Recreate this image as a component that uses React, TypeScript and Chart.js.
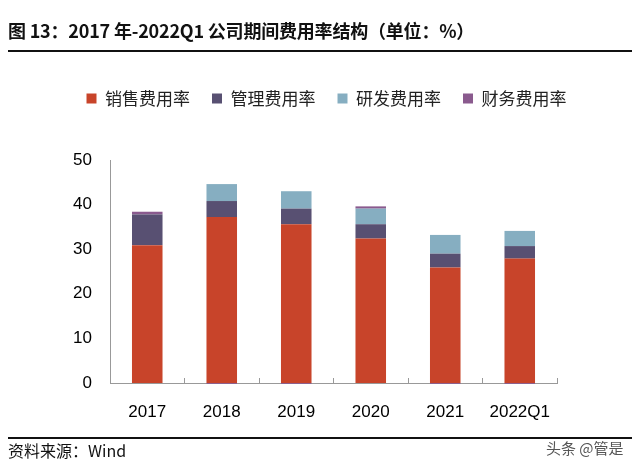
import React, { useEffect, useRef } from "react";
import { Chart, registerables } from "chart.js";

Chart.register(...registerables);

const categories = ["2017", "2018", "2019", "2020", "2021", "2022Q1"];
const salesRate = [30.9, 37.2, 35.6, 32.4, 25.9, 27.9];
const adminRate = [6.9, 3.6, 3.5, 3.2, 3.1, 2.8];
const rdRate = [0, 3.8, 3.9, 3.5, 4.2, 3.4];
const financeRate = [0.6, -0.2, -0.2, 0.5, -0.2, -0.2];
const seriesNames = ["销售费用率", "管理费用率", "研发费用率", "财务费用率"];
const yTicks = [0, 10, 20, 30, 40, 50];

const colors = ["#C8442A", "#585072", "#86AEC1", "#8A5A8E"];

const legendPlacement = {
  id: "legendPlacement",
  beforeInit(chart: any) {
    const legend = chart.legend;
    if (!legend) return;
    const origFit = legend.fit.bind(legend);
    legend.fit = function () {
      origFit();
      this.height += 43;
    };
  },
  afterLayout(chart: any) {
    const legend = chart.legend;
    if (!legend) return;
    legend.left += 48;
    legend.right += 48;
  },
};

export default function App() {
  const ref = useRef<HTMLCanvasElement | null>(null);

  useEffect(() => {
    document.body.style.margin = "0";
    const canvas = ref.current;
    if (!canvas) return;
    const values = [salesRate, adminRate, rdRate, financeRate];
    const chart = new Chart(canvas, {
      type: "bar",
      data: {
        labels: categories,
        datasets: seriesNames.map((name, i) => ({
          label: name,
          data: values[i],
          backgroundColor: colors[i],
          borderWidth: 0,
          barPercentage: 0.41,
          categoryPercentage: 1,
          clip: i === 3 ? false : undefined,
        })) as any,
      },
      plugins: [legendPlacement],
      options: {
        animation: false,
        responsive: false,
        maintainAspectRatio: false,
        layout: { padding: { top: 68, right: 83, bottom: 47, left: 0 } },
        plugins: {
          legend: {
            position: "top",
            labels: {
              boxWidth: 10,
              boxHeight: 10,
              padding: 22,
              color: "#222",
              font: { family: "'Noto Sans CJK SC'", size: 17 },
            },
          },
          tooltip: { enabled: false },
        },
        scales: {
          x: {
            stacked: true,
            grid: {
              offset: true,
              drawOnChartArea: false,
              drawTicks: true,
              tickLength: -5,
              color: "#999",
            },
            border: { color: "#999", width: 1 },
            ticks: {
              color: "#000",
              padding: 24,
              font: { family: "'Liberation Sans', Arial", size: 17 },
            },
            afterFit: (s: any) => {
              s.height = 40;
            },
          },
          y: {
            stacked: true,
            min: 0,
            max: 50,
            afterBuildTicks: (s: any) => {
              s.ticks = yTicks.map((v) => ({ value: v }));
            },
            grid: { display: false, drawTicks: false },
            border: { color: "#999", width: 1 },
            ticks: {
              color: "#000",
              padding: 18,
              font: { family: "'Liberation Sans', Arial", size: 17 },
            },
            afterFit: (s: any) => {
              s.width = 110;
            },
          },
        },
      },
    });
    return () => chart.destroy();
  }, []);

  return (
    <div style={{ position: "absolute", left: 0, top: 0, width: 640, height: 470, background: "#fff" }}>
      <canvas ref={ref} width={640} height={470} style={{ position: "absolute", left: 0, top: 0, width: 640, height: 470 }} />
      <div
        style={{
          position: "absolute",
          left: 8,
          top: 16,
          fontFamily: "'Noto Sans CJK SC'",
          fontWeight: 700,
          fontSize: 18,
          letterSpacing: -0.2,
          lineHeight: "28px",
          color: "#111",
          whiteSpace: "nowrap",
        }}
      >
        图 13：2017 年-2022Q1 公司期间费用率结构（单位：%）
      </div>
      <div style={{ position: "absolute", left: 8, top: 50, width: 624, height: 2, background: "#111" }} />
      <div style={{ position: "absolute", left: 8, top: 437, width: 624, height: 2, background: "#111" }} />
      <div
        style={{
          position: "absolute",
          left: 8,
          top: 439,
          fontFamily: "'Noto Sans CJK SC'",
          fontSize: 16,
          lineHeight: "22px",
          color: "#111",
          whiteSpace: "nowrap",
        }}
      >
        资料来源：Wind
      </div>
      <div
        style={{
          position: "absolute",
          left: 546,
          top: 437,
          fontFamily: "'Noto Sans CJK SC'",
          fontSize: 15,
          lineHeight: "22px",
          color: "#555",
          whiteSpace: "nowrap",
        }}
      >
        头条 @管是
      </div>
    </div>
  );
}
